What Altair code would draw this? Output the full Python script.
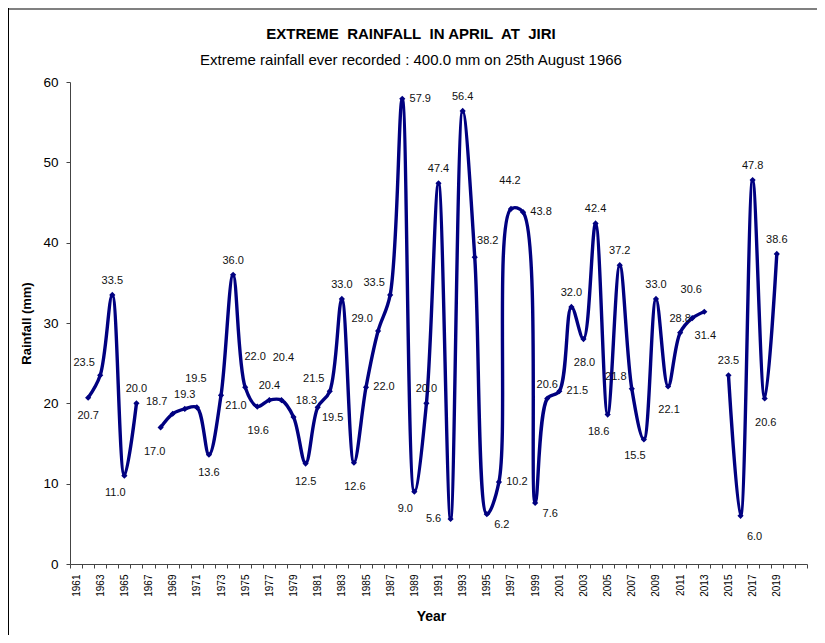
import altair as alt
import pandas as pd

# ---------------- data ----------------
years = list(range(1961, 2020))
rain = [
    None, 20.7, 23.5, 33.5, 11.0, 20.0, None, 17.0, 18.7, 19.3,   # 1961-1970
    19.5, 13.6, 21.0, 36.0, 22.0, 19.6, 20.4, 20.4, 18.3, 12.5,   # 1971-1980
    19.5, 21.5, 33.0, 12.6, 22.0, 29.0, 33.5, 57.9, 9.0, 20.0,    # 1981-1990
    47.4, 5.6, 56.4, 38.2, 6.2, 10.2, 44.2, 43.8, 7.6, 20.6,      # 1991-2000
    21.5, 32.0, 28.0, 42.4, 18.6, 37.2, 21.8, 15.5, 33.0, 22.1,   # 2001-2010
    28.8, 30.6, 31.4, None, 23.5, 6.0, 47.8, 20.6, 38.6,          # 2011-2019
]
# label placement codes (compass direction of the value label)
label_pos = [
    None, "S", "NW", "N", "SW", "N", None, "SW2", "NW", "N",
    "N2", "S", "SE", "N", "NE2", "S2", "N", "N3", "NE", "S",
    "SE", "NW", "N", "S2", "E", "NW", "NW", "E", "SW", "N",
    "N", "W", "N", "NE", "SE", "E", "N2", "E", "SE", "N",
    "E", "N", "S2", "N", "SW", "N", "NW", "SW", "N", "S2",
    "N", "N2", "S2", None, "N", "SE2", "N", "S2", "N",
]

title_text = "EXTREME\u00a0 RAINFALL\u00a0 IN APRIL\u00a0 AT\u00a0 JIRI"
subtitle_text = "Extreme rainfall ever recorded : 400.0 mm on 25th August 1966"

# ---------------- styles ----------------
offsets = {
    "N": (0, -14), "N2": (-1, -28), "N3": (2, -42),
    "S": (0, 18), "S2": (1, 24), "E": (18, 0), "W": (-17, 0),
    "NE": (13, -16), "NE2": (10, -30), "NW": (-16, -12),
    "SE": (15, 11), "SE2": (14, 21), "SW": (-9, 17), "SW2": (-6, 25),
}
NAVY = "#000080"
FONT = "Liberation Sans"
W, H = 737, 482
half = W / 61 / 2

rows = []
seg = 0
prev = None
for yr, v, p in zip(years, rain, label_pos):
    if v is None:
        continue
    if prev is not None and yr - prev > 1:
        seg += 1
    rows.append({"year": yr, "rain": v, "pos": p, "seg": seg})
    prev = yr
df = pd.DataFrame(rows)

x_enc = alt.X(
    "year:Q",
    scale=alt.Scale(domain=[1960.5, 2021.5], nice=False, zero=False),
    axis=alt.Axis(
        values=[1960.5 + i for i in range(62)],
        labelExpr="((datum.value + 0.5) % 2 == 1) && (datum.value < 2019.6) ? toString(datum.value + 0.5) : ''",
        labelOffset=half,
        labelAngle=270,
        labelFontSize=10,
        labelColor="black",
        labelPadding=6,
        labelFlush=False,
        labelOverlap=False,
        labelBound=False,
        tickSize=4,
        tickColor="#444",
        domainColor="#444",
        grid=False,
        title="Year",
        titleFontSize=14,
        titleFontWeight="bold",
        titlePadding=13,
        titleX=361,
        titleColor="black",
    ),
)
y_enc = alt.Y(
    "rain:Q",
    scale=alt.Scale(domain=[0, 60], nice=False),
    axis=alt.Axis(
        values=[0, 10, 20, 30, 40, 50, 60],
        labelFontSize=13.5,
        labelColor="black",
        labelPadding=8,
        tickSize=4,
        tickColor="#444",
        domainColor="#444",
        grid=False,
        title="Rainfall (mm)",
        titleFontSize=13,
        titleFontWeight="bold",
        titlePadding=9,
        titleColor="black",
    ),
)

line = alt.Chart(df).mark_line(
    interpolate="catmull-rom", color=NAVY, strokeWidth=3.4
).encode(x=x_enc, y=y_enc, detail="seg:N")

pts = alt.Chart(df).mark_point(
    shape="diamond", filled=True, size=38, color=NAVY, opacity=1
).encode(x=x_enc, y=y_enc)

labels = []
for code, (dx, dy) in offsets.items():
    labels.append(
        alt.Chart(df)
        .transform_filter(alt.datum.pos == code)
        .mark_text(dx=dx, dy=dy, fontSize=11, font=FONT, color="#111",
                   align="center", baseline="middle")
        .encode(x=x_enc, y=y_enc, text=alt.Text("rain:Q", format=".1f"))
    )

one = alt.Data(values=[{}])
title = alt.Chart(one).mark_text(
    fontSize=15, fontWeight="bold", font=FONT, color="black", align="center", baseline="middle"
).encode(x=alt.value(341), y=alt.value(-48), text=alt.value(title_text))
subtitle = alt.Chart(one).mark_text(
    fontSize=15, font=FONT, color="black", align="center", baseline="middle"
).encode(x=alt.value(341), y=alt.value(-22), text=alt.value(subtitle_text))

frame_top = alt.Chart(one).mark_rule(color="#808080", strokeWidth=2).encode(
    x=alt.value(-62), x2=alt.value(W + 10), y=alt.value(-73)
)
frame_left = alt.Chart(one).mark_rule(color="black", strokeWidth=1).encode(
    x=alt.value(-61.5), y=alt.value(-74), y2=alt.value(H + 71)
)

chart = (
    alt.layer(line, pts, *labels, title, subtitle, frame_top, frame_left)
    .properties(
        width=W,
        height=H,
        autosize=alt.AutoSizeParams(type="none"),
        padding={"left": 62, "top": 74, "right": 10, "bottom": 71},
        background="white",
    )
    .configure_view(stroke=None)
    .configure_axis(labelFont=FONT, titleFont=FONT)
    .configure_text(font=FONT)
)

chart.save("out.html", embed_options={"renderer": "svg", "actions": False})
